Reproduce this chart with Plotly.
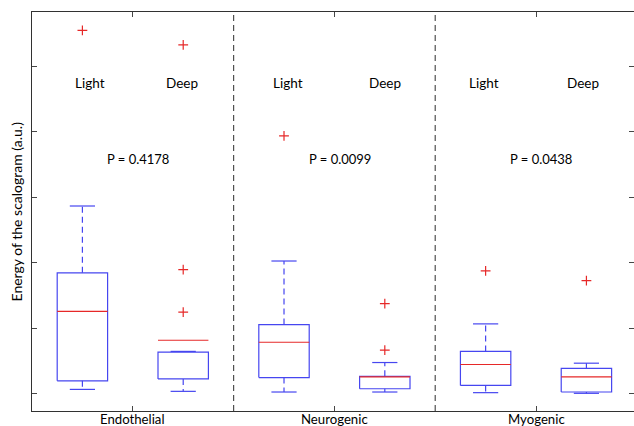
import plotly.graph_objects as go

groups = ["Endothelial", "Neurogenic", "Myogenic"]
conditions = ["Light", "Deep"]
p_values = ["P = 0.4178", "P = 0.0099", "P = 0.0438"]
y_ticks = [0, 1, 2, 3, 4, 5]

# box statistics, order: Endo-Light, Endo-Deep, Neuro-Light, Neuro-Deep, Myo-Light, Myo-Deep
q1 = [0.20, 0.23, 0.25, 0.08, 0.13, 0.03]
median = [1.26, 0.82, 0.79, 0.26, 0.45, 0.26]
q3 = [1.85, 0.64, 1.06, 0.27, 0.65, 0.39]
whisker_low = [0.07, 0.04, 0.03, 0.03, 0.02, 0.01]
whisker_high = [2.87, 0.65, 2.03, 0.48, 1.07, 0.47]
outliers = [[5.55], [5.33, 1.90, 1.25], [3.94], [1.38, 0.67], [1.88], [1.73]]

BLUE = "rgb(70,70,240)"
RED = "rgb(230,40,40)"
FONT = "Lato"
Y_RANGE = [-0.26, 5.832]
# horizontal offsets (in group units) of the text labels in each group
light_dx = [-0.21, -0.23, -0.26]
deep_dx = [0.245, 0.25, 0.235]
p_dx = [0.028, 0.03, 0.025]

fig = go.Figure()

half = 0.125
cap = 0.0625
for i in range(len(q1)):
    g = i // 2
    c = i % 2
    xc = (g + 1) + (-0.25 if c == 0 else 0.25)
    # box
    fig.add_trace(go.Scatter(
        x=[xc - half, xc + half, xc + half, xc - half, xc - half],
        y=[q1[i], q1[i], q3[i], q3[i], q1[i]],
        mode="lines", line=dict(color=BLUE, width=1.2), hoverinfo="skip", showlegend=False))
    # whiskers (dashed)
    fig.add_trace(go.Scatter(
        x=[xc, xc, None, xc, xc],
        y=[q3[i], whisker_high[i], None, q1[i], whisker_low[i]],
        mode="lines", line=dict(color=BLUE, width=1.2, dash="6px,4px"), hoverinfo="skip", showlegend=False))
    # caps
    fig.add_trace(go.Scatter(
        x=[xc - cap, xc + cap, None, xc - cap, xc + cap],
        y=[whisker_high[i], whisker_high[i], None, whisker_low[i], whisker_low[i]],
        mode="lines", line=dict(color=BLUE, width=1.2), hoverinfo="skip", showlegend=False))
    # median
    fig.add_trace(go.Scatter(
        x=[xc - half, xc + half], y=[median[i], median[i]],
        mode="lines", line=dict(color=RED, width=1.2), hoverinfo="skip", showlegend=False))
    # outliers
    fig.add_trace(go.Scatter(
        x=[xc] * len(outliers[i]), y=outliers[i], mode="markers",
        marker=dict(symbol="cross-thin", size=7, line=dict(color=RED, width=1.2), color=RED),
        hoverinfo="skip", showlegend=False))

# invisible trace to anchor the right-hand tick axis
fig.add_trace(go.Scatter(x=[None], y=[None], yaxis="y2", mode="markers", showlegend=False,
                         hoverinfo="skip"))

annotations = []
for g in range(len(groups)):
    annotations.append(dict(x=g + 1 + light_dx[g], y=4.75, text=conditions[0], showarrow=False,
                            font=dict(family=FONT, size=13.5, color="black")))
    annotations.append(dict(x=g + 1 + deep_dx[g], y=4.75, text=conditions[1], showarrow=False,
                            font=dict(family=FONT, size=13.5, color="black")))
    annotations.append(dict(x=g + 1 + p_dx[g], y=3.59, text=p_values[g], showarrow=False,
                            font=dict(family=FONT, size=13, color="black")))
    annotations.append(dict(x=g + 1, y=0, yref="paper", yanchor="top", yshift=2,
                            text=groups[g], showarrow=False,
                            font=dict(family=FONT, size=13.2, color="black")))

annotations.append(dict(xref="paper", yref="paper", x=0, y=0.50, xshift=-16,
                        text="Energy of the scalogram (a.u.)", textangle=-90, showarrow=False,
                        xanchor="center", yanchor="middle",
                        font=dict(family=FONT, size=14, color="black")))

shapes = []
for g in range(len(groups) - 1):
    shapes.append(dict(type="line", xref="x", yref="paper", x0=g + 1.5, x1=g + 1.5, y0=0, y1=1,
                       line=dict(color="rgb(80,80,80)", width=1.2, dash="6px,4px")))

fig.update_layout(
    width=634, height=426,
    margin=dict(l=32, r=0, t=12, b=15, autoexpand=False),
    paper_bgcolor="white", plot_bgcolor="white",
    annotations=annotations, shapes=shapes,
    font=dict(family=FONT, size=13, color="black"),
    xaxis=dict(range=[0.5, 3.486], tickvals=[1, 2, 3], showticklabels=False, automargin=False,
               ticks="inside", ticklen=5, tickcolor="rgb(70,70,70)",
               showline=True, linecolor="rgb(50,50,50)", linewidth=1, mirror="ticks",
               showgrid=False, zeroline=False),
    yaxis=dict(range=Y_RANGE, tickvals=y_ticks, showticklabels=False,
               automargin=False,
               ticks="inside", ticklen=5, tickcolor="rgb(70,70,70)",
               showline=True, linecolor="rgb(50,50,50)", linewidth=1, mirror=False,
               showgrid=False, zeroline=False),
    yaxis2=dict(range=Y_RANGE, tickvals=y_ticks, showticklabels=False, overlaying="y",
                side="right", automargin=False, ticks="inside", ticklen=5,
                tickcolor="rgb(70,70,70)", showline=False, showgrid=False, zeroline=False),
)

fig.write_html("out.html", config={"displayModeBar": False},
               post_script="document.body.style.margin='0px';")
